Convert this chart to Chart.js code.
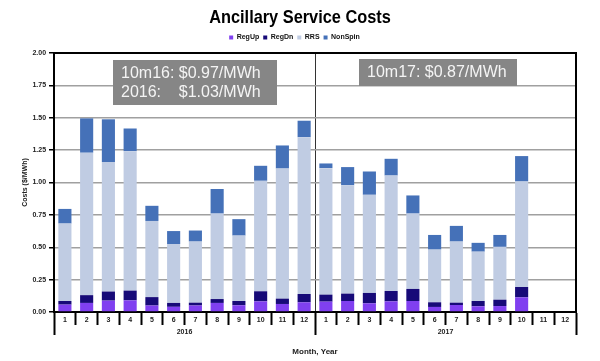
<!DOCTYPE html>
<html>
<head>
<meta charset="utf-8">
<script src="https://cdn.jsdelivr.net/npm/chart.js@4/dist/chart.umd.min.js"></script>
<style>
  html, body { margin: 0; padding: 0; background: #fff; }
  #wrap { width: 600px; height: 361px; }
</style>
</head>
<body>
<div id="wrap"><canvas id="miGrafica"></canvas></div>
<script>
"use strict";

// etiquetas del eje X (mes) y del segundo nivel (año)
let meses = ["1","2","3","4","5","6","7","8","9","10","11","12",
             "1","2","3","4","5","6","7","8","9","10","11","12"];
let years = ["2016", "2017"];

// costos en $/MWh por componente (apilados)
let regUp   = [0.057, 0.070, 0.088, 0.090, 0.050, 0.040, 0.050, 0.070, 0.052, 0.082, 0.062, 0.075,
               0.080, 0.085, 0.067, 0.082, 0.085, 0.039, 0.054, 0.044, 0.046, 0.113, null, null];
let regDn   = [0.028, 0.060, 0.070, 0.075, 0.065, 0.030, 0.022, 0.030, 0.033, 0.078, 0.041, 0.064,
               0.054, 0.057, 0.080, 0.080, 0.093, 0.036, 0.018, 0.041, 0.049, 0.080, null, null];
let rrs     = [0.598, 1.100, 1.000, 1.077, 0.588, 0.455, 0.472, 0.660, 0.505, 0.853, 1.005, 1.211,
               0.977, 0.837, 0.758, 0.892, 0.582, 0.407, 0.472, 0.381, 0.408, 0.815, null, null];
let nonSpin = [0.113, 0.265, 0.330, 0.175, 0.117, 0.100, 0.085, 0.190, 0.127, 0.116, 0.178, 0.127,
               0.036, 0.140, 0.180, 0.129, 0.140, 0.113, 0.121, 0.068, 0.092, 0.196, null, null];

// cuadros de texto (promedios)
let notas = [
    { lineas: ["10m16: $0.97/MWh", "2016:    $1.03/MWh"], x: 113, y: 60, w: 164, h: 45 },
    { lineas: ["10m17: $0.87/MWh"], x: 359, y: 59, w: 158, h: 27 }
];

const TITULO = "Ancillary Service Costs";
const FUENTE = "'Liberation Sans', Arial, sans-serif";

// titulo angosto, marco negro y cuadros grises
const extras = {
    id: "extras",
    afterDraw(chart) {
        const c = chart.ctx;
        const a = chart.chartArea;
        c.save();

        // titulo (no hay Arial Narrow, se comprime a mano)
        c.save();
        c.translate(chart.width / 2, 18);
        c.scale(0.86, 1);
        c.fillStyle = "#000";
        c.font = "bold 19px " + FUENTE;
        c.textAlign = "center";
        c.textBaseline = "middle";
        c.fillText(TITULO, 0, 0);
        c.restore();

        c.strokeStyle = "#000";
        c.lineWidth = 2;
        c.beginPath();
        c.moveTo(a.left, a.top);
        c.lineTo(a.right, a.top);
        c.lineTo(a.right, a.bottom);
        c.stroke();

        notas.forEach(n => {
            c.fillStyle = "#868686";
            c.fillRect(n.x, n.y, n.w, n.h);
            c.fillStyle = "#f4f4f4";
            c.font = "16px " + FUENTE;
            c.textBaseline = "middle";
            c.textAlign = "left";
            n.lineas.forEach((t, i) => {
                c.fillText(t, n.x + 8, n.y + 13.5 + i * 19);
            });
        });
        c.restore();
    }
};

const ctx = document.getElementById("miGrafica").getContext("2d");
new Chart(ctx, {
    type: "bar",
    data: {
        labels: meses,
        datasets: [
            { label: "RegUp",   data: regUp,   backgroundColor: "#8040f0", xAxisID: "x", yAxisID: "y" },
            { label: "RegDn",   data: regDn,   backgroundColor: "#170a78", xAxisID: "x", yAxisID: "y" },
            { label: "RRS",     data: rrs,     backgroundColor: "#c0cce3", xAxisID: "x", yAxisID: "y" },
            { label: "NonSpin", data: nonSpin, backgroundColor: "#4571b8", xAxisID: "x", yAxisID: "y" }
        ]
    },
    options: {
        responsive: true,
        maintainAspectRatio: false,
        animation: false,
        datasets: { bar: { barPercentage: 0.9, categoryPercentage: 0.67 } },
        layout: { padding: { left: 13, right: 24, top: 30, bottom: 4 } },
        plugins: {
            title: { display: false },
            legend: {
                display: true,
                labels: {
                    boxWidth: 4,
                    boxHeight: 4,
                    padding: 4,
                    color: "#111",
                    font: { family: FUENTE, size: 7, weight: "bold" }
                }
            },
            tooltip: { enabled: false }
        },
        scales: {
            x: {
                stacked: true,
                weight: 0,
                afterFit: s => { s.height = 13; },
                border: { display: true, color: "#000", width: 2 },
                grid: {
                    offset: true,
                    drawOnChartArea: false,
                    tickLength: 13,
                    tickColor: "#000",
                    tickWidth: 2
                },
                ticks: {
                    padding: -9,
                    maxRotation: 0,
                    autoSkip: false,
                    color: "#222",
                    font: { family: FUENTE, size: 7, weight: "bold" }
                }
            },
            x2: {
                type: "category",
                labels: years,
                position: "bottom",
                display: true,
                offset: true,
                weight: 1,
                afterFit: s => { s.height = 32; },
                border: { display: false },
                grid: {
                    offset: true,
                    drawOnChartArea: true,
                    color: "#333",
                    lineWidth: 1,
                    tickLength: 10,
                    tickColor: "#000",
                    tickWidth: 2
                },
                ticks: {
                    padding: -7,
                    maxRotation: 0,
                    color: "#222",
                    font: { family: FUENTE, size: 7, weight: "bold" }
                },
                title: {
                    display: true,
                    text: "Month, Year",
                    color: "#222",
                    font: { family: FUENTE, size: 8, weight: "bold" },
                    padding: { top: 0, bottom: 0 }
                }
            },
            // eje vacio arriba, solo deja un poco de aire bajo la leyenda
            xTop: {
                type: "category",
                labels: [""],
                position: "top",
                display: true,
                afterFit: s => { s.height = 2; },
                grid: { display: false },
                border: { display: false },
                ticks: { display: false }
            },
            y: {
                stacked: true,
                min: 0,
                max: 2,
                border: { display: true, color: "#000", width: 2 },
                grid: {
                    color: "#a0a0a0",
                    lineWidth: 1.5,
                    tickLength: 5,
                    tickColor: "#000"
                },
                ticks: {
                    stepSize: 0.25,
                    padding: 3,
                    color: "#222",
                    font: { family: FUENTE, size: 7, weight: "bold" },
                    callback: v => Number(v).toFixed(2)
                },
                title: {
                    display: true,
                    text: "Costs ($/MWh)",
                    color: "#222",
                    font: { family: FUENTE, size: 7, weight: "bold" },
                    padding: { top: 8, bottom: 0 }
                }
            }
        }
    },
    plugins: [extras]
});
</script>
</body>
</html>
